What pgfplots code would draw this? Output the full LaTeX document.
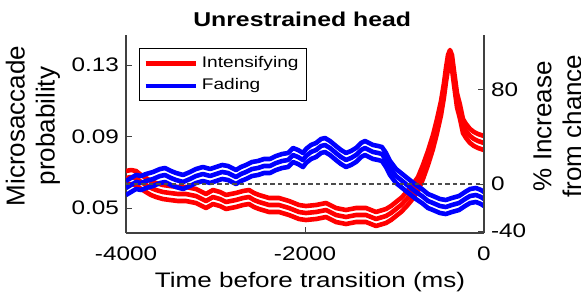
\documentclass[border=0pt]{standalone}
\usepackage{pgfplots}
\usepackage{pgfplotstable}
\pgfplotsset{compat=1.18}
\usepackage{fontspec}
\setmainfont{Liberation Sans}[FakeStretch=1.24]
\newfontfamily\rotfont{Liberation Sans}

\pgfplotstableread{
t y
-4000 0.06678
-3944 0.06734
-3888 0.06678
-3832 0.06455
-3777 0.06287
-3721 0.06119
-3665 0.06007
-3587 0.05895
-3508 0.05839
-3419 0.05783
-3330 0.05783
-3218 0.05671
-3106 0.05392
-3028 0.05615
-2950 0.05503
-2883 0.05336
-2771 0.05448
-2693 0.05559
-2626 0.05615
-2570 0.05448
-2514 0.05336
-2402 0.05168
-2291 0.05168
-2179 0.05000
-2067 0.04776
-1989 0.04720
-1877 0.04776
-1765 0.04888
-1654 0.04608
-1542 0.04497
-1430 0.04608
-1318 0.04608
-1207 0.04385
-1095 0.04552
-1039 0.04720
-983 0.04944
-927 0.05168
-872 0.05448
-816 0.05783
-737 0.06343
-682 0.07014
-626 0.07797
-570 0.08692
-525 0.09587
-480 0.10594
-447 0.11601
-425 0.12441
-402 0.13168
-380 0.13448
-358 0.13168
-335 0.12273
-302 0.11042
-268 0.10371
-235 0.09587
-201 0.09308
-156 0.09028
-112 0.08860
-67 0.08748
0 0.08636
}\redtab

\pgfplotstableread{
t y
-4000 0.06119
-3944 0.06287
-3888 0.06455
-3832 0.06399
-3777 0.06510
-3698 0.06622
-3620 0.06790
-3564 0.06846
-3497 0.06678
-3441 0.06566
-3363 0.06455
-3285 0.06622
-3218 0.06790
-3140 0.06902
-3061 0.06790
-2994 0.06902
-2927 0.07014
-2860 0.06958
-2771 0.06734
-2715 0.06902
-2659 0.07014
-2592 0.07182
-2525 0.07238
-2458 0.07350
-2391 0.07350
-2324 0.07517
-2257 0.07629
-2190 0.07685
-2134 0.07965
-2078 0.07853
-2022 0.07685
-1989 0.07909
-1933 0.08133
-1877 0.08245
-1821 0.08469
-1777 0.08524
-1721 0.08357
-1654 0.08077
-1598 0.07853
-1542 0.07685
-1486 0.07797
-1430 0.07965
-1374 0.08245
-1330 0.08357
-1285 0.08245
-1240 0.08133
-1184 0.08077
-1140 0.08021
-1095 0.07685
-1050 0.07238
-983 0.06790
-927 0.06566
-872 0.06343
-816 0.06119
-760 0.05895
-693 0.05671
-626 0.05392
-570 0.05280
-492 0.05112
-425 0.05056
-358 0.05168
-279 0.05280
-212 0.05503
-156 0.05671
-89 0.05727
-34 0.05615
0 0.05503
}\bluetab

\begin{document}
\begin{tikzpicture}
\begin{axis}[
  scale only axis, width=179pt, height=99pt,
  at={(0,0)}, anchor=south west,
  xmin=-4000, xmax=0, ymin=0.03601, ymax=0.14678,
  axis x line*=bottom, axis y line*=left,
  axis line style={black!75, line width=0.6pt},
  tick align=inside, major tick length=3pt,
  tick style={black!75, line width=0.5pt},
  xtick={-4000,-2000,0}, xticklabels={-4000,-2000,0},
  ytick={0.05,0.09,0.13}, yticklabels={0.05,0.09,0.13},
  tick label style={font=\fontsize{9.8}{11}\selectfont},
  xticklabel style={anchor=base, yshift=-13.5pt},
  title={Unrestrained head},
  title style={font=\bfseries\fontsize{10}{12}\selectfont, at={(axis description cs:0.492,1)}, anchor=base, yshift=-1.5pt},
  xlabel={Time before transition (ms)},
  xlabel style={font=\fontsize{10.5}{12}\selectfont, at={(axis description cs:0.514,0)}, anchor=base, yshift=-27pt},
  ylabel={Microsaccade\\probability},
  ylabel style={font=\rotfont\fontsize{13}{15}\selectfont, align=center, at={(axis description cs:-0.26,0.54)}, anchor=center},
  legend style={at={(axis description cs:0.0363,0.934)}, anchor=north west, draw=black, line width=0.5pt,
    font=\fontsize{7.7}{9}\selectfont, inner xsep=2pt, inner ysep=2pt, row sep=0pt},
  legend image code/.code={\draw[#1, line width=2.2pt] (0pt,0pt) -- (25pt,0pt);},
  legend cell align=left,
]
\addplot[red, line width=2.3pt, line join=round] table[x=t, y=y] {\redtab};
\addlegendentry{Intensifying}
\addplot[red, line width=2.3pt, line join=round, yshift=3.5pt, forget plot] table[x=t, y=y] {\redtab};
\addplot[red, line width=2.3pt, line join=round, yshift=-3.5pt, forget plot] table[x=t, y=y] {\redtab};
\addplot[blue, line width=2.3pt, line join=round] table[x=t, y=y] {\bluetab};
\addlegendentry{Fading}
\addplot[blue, line width=2.3pt, line join=round, yshift=3.5pt, forget plot] table[x=t, y=y] {\bluetab};
\addplot[blue, line width=2.3pt, line join=round, yshift=-3.5pt, forget plot] table[x=t, y=y] {\bluetab};
\addplot[black!70, line width=0.7pt, dash pattern=on 2.2pt off 1.6pt, forget plot] coordinates {(-4000,0.06343) (0,0.06343)};
\end{axis}
\begin{axis}[
  scale only axis, width=179pt, height=99pt,
  at={(0,0)}, anchor=south west,
  xmin=-4000, xmax=0, ymin=-41.7, ymax=126.8,
  axis x line=none, axis y line*=right,
  axis line style={black!75, line width=0.6pt},
  tick align=inside, major tick length=3pt,
  tick style={black!75, line width=0.5pt},
  ytick={-40,0,80}, yticklabels={-40,0,80},
  tick label style={font=\fontsize{9.8}{11}\selectfont},
  ylabel={\%~Increase\\from chance},
  ylabel style={font=\rotfont\fontsize{13}{15}\selectfont, align=center, at={(axis description cs:1.205,0.54)}, anchor=center, rotate=0},
]
\end{axis}
\pgfresetboundingbox
\useasboundingbox (-63pt,-31.5pt) rectangle (227.5pt,116.5pt);
\end{tikzpicture}
\end{document}
